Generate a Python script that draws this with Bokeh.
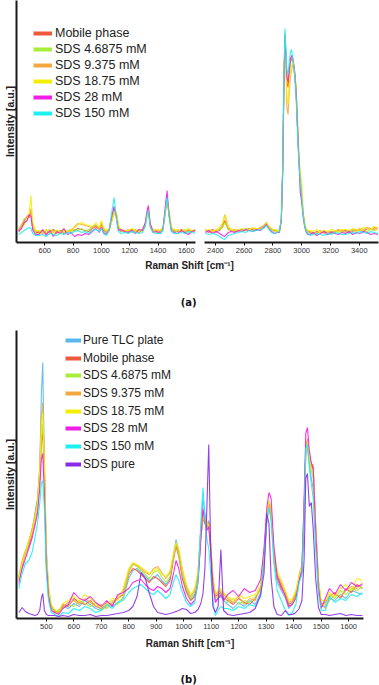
from bokeh.plotting import figure
from bokeh.models import Range1d, FixedTicker, Legend, LegendItem, Label
from bokeh.layouts import column, row
from bokeh.embed import file_html
from bokeh.resources import INLINE

# ---------------- data ----------------
NAMES_A = ["Mobile phase", "SDS 4.6875 mM", "SDS 9.375 mM", "SDS 18.75 mM", "SDS 28 mM", "SDS 150 mM"]
NAMES_B = ["Pure TLC plate", "Mobile phase", "SDS 4.6875 mM", "SDS 9.375 mM", "SDS 18.75 mM",
           "SDS 28 mM", "SDS 150 mM", "SDS pure"]
COLORS = {
    "Pure TLC plate": "#58b8ee",
    "Mobile phase": "#f0583c",
    "SDS 4.6875 mM": "#a6ee3a",
    "SDS 9.375 mM": "#f4a640",
    "SDS 18.75 mM": "#f4ee00",
    "SDS 28 mM": "#f21ee6",
    "SDS 150 mM": "#1ef0f0",
    "SDS pure": "#8a2be8",
}

TICKS_A_LEFT = [600, 800, 1000, 1200, 1400, 1600]
TICKS_A_RIGHT = [2400, 2600, 2800, 3000, 3200, 3400]
TICKS_B = [500, 600, 700, 800, 900, 1000, 1100, 1200, 1300, 1400, 1500, 1600]

# panel (a), left segment
A_LEFT_X = [415, 435, 455, 475, 490, 502, 515, 535,
            560, 585, 610, 635, 660, 685, 710, 735, 760, 785, 810, 835, 860, 885, 910, 935, 960, 985,
            1000, 1015, 1035, 1055, 1075, 1090, 1105, 1120, 1140, 1165,
            1190, 1215, 1240, 1265, 1290, 1310, 1322, 1332, 1345, 1365, 1390,
            1415, 1435, 1450, 1464, 1478, 1495, 1515,
            1540, 1565, 1590, 1615, 1640, 1665]
A_LEFT_MOBILE = [12, 16, 22, 26, 25, 30, 14, 10,
                 10, 12, 9, 11, 13, 10, 12, 9, 11, 13, 12, 14, 13, 12, 11, 14, 16, 13,
                 18, 12, 10, 14, 26, 34, 28, 14, 11, 12,
                 11, 13, 12, 10, 13, 18, 28, 33, 18, 11, 12,
                 11, 14, 30, 46, 28, 13, 11,
                 11, 13, 10, 12, 11, 13]
A_LEFT_SDS4 = [14, 18, 24, 24, 28, 28, 15, 9,
               9, 11, 10, 13, 10, 12, 9, 11, 12, 10, 13, 12, 14, 11, 13, 15, 18, 14,
               20, 13, 9, 12, 24, 32, 30, 15, 12, 10,
               12, 10, 13, 12, 11, 17, 27, 31, 17, 12, 10,
               10, 13, 28, 45, 30, 14, 10,
               12, 11, 13, 10, 12, 11]
A_LEFT_SDS9 = [12, 17, 20, 27, 26, 34, 16, 11,
               11, 9, 12, 10, 12, 9, 11, 13, 10, 12, 16, 19, 18, 17, 16, 15, 17, 14,
               19, 14, 11, 13, 22, 28, 31, 16, 12, 11,
               13, 12, 11, 13, 12, 16, 26, 30, 16, 13, 12,
               12, 15, 27, 42, 31, 15, 12,
               11, 12, 10, 13, 12, 10]
A_LEFT_SDS18 = [10, 15, 18, 22, 30, 47, 20, 12,
                12, 10, 13, 11, 9, 13, 10, 12, 11, 13, 15, 18, 20, 18, 17, 16, 20, 15,
                22, 15, 12, 14, 22, 29, 30, 17, 13, 12,
                12, 14, 12, 11, 13, 18, 27, 32, 18, 12, 13,
                12, 14, 28, 44, 32, 14, 13,
                13, 11, 12, 14, 11, 12]
A_LEFT_SDS28 = [11, 14, 20, 22, 28, 26, 12, 8,
                8, 13, 7, 12, 6, 11, 9, 14, 8, 10, 6, 8, 7, 9, 8, 11, 14, 10,
                15, 10, 8, 12, 28, 36, 26, 12, 13, 11,
                10, 12, 9, 13, 12, 20, 31, 37, 19, 10, 11,
                9, 13, 34, 52, 27, 11, 10,
                9, 12, 10, 8, 11, 12]
A_LEFT_SDS150 = [8, 10, 12, 14, 15, 14, 9, 7,
                 7, 8, 6, 9, 8, 7, 9, 8, 10, 9, 11, 12, 10, 11, 9, 12, 13, 11,
                 14, 9, 7, 12, 32, 45, 24, 11, 9, 10,
                 9, 11, 10, 9, 10, 16, 28, 32, 15, 10, 9,
                 9, 12, 30, 45, 26, 11, 9,
                 9, 10, 9, 11, 10, 9]

# panel (a), right segment
A_RIGHT_X = [2330, 2355, 2380, 2405, 2430, 2450, 2465, 2475, 2490, 2510,
             2535, 2560, 2585, 2610, 2635, 2660, 2685, 2710, 2735, 2755, 2770, 2790, 2810, 2830,
             2845, 2858, 2868, 2876, 2884, 2890, 2897, 2905, 2913, 2921, 2929, 2937, 2945, 2953,
             2961, 2970, 2980, 2990, 3000, 3010, 3020, 3032, 3045,
             3060, 3080, 3105, 3130, 3155, 3180, 3205, 3230, 3255, 3280,
             3305, 3330, 3355, 3380, 3405, 3430, 3455, 3480, 3505, 3530]
A_RIGHT_MOBILE = [12, 10, 13, 11, 12, 16, 22, 18, 13, 12,
                  11, 12, 13, 12, 14, 13, 12, 14, 16, 19, 16, 13, 12, 12,
                  12, 22, 72, 158, 206, 186, 160, 155, 168, 180, 184, 182, 175, 165,
                  150, 118, 82, 62, 46, 28, 18, 12, 11,
                  10, 9, 11, 10, 12, 9, 11, 10, 12, 11,
                  12, 10, 11, 13, 12, 11, 14, 13, 15, 14]
A_RIGHT_SDS4 = [11, 12, 10, 12, 13, 15, 20, 17, 14, 11,
                12, 11, 12, 14, 13, 12, 14, 13, 15, 18, 15, 12, 11, 13,
                11, 23, 76, 162, 210, 190, 168, 162, 174, 184, 186, 183, 176, 168,
                152, 120, 84, 64, 48, 30, 18, 12, 10,
                9, 10, 9, 11, 10, 11, 9, 12, 10, 11,
                10, 11, 12, 11, 13, 12, 11, 13, 12, 13]
A_RIGHT_SDS9 = [13, 11, 12, 10, 14, 18, 28, 22, 15, 12,
                13, 12, 11, 13, 12, 14, 13, 15, 17, 20, 16, 14, 12, 11,
                12, 21, 70, 155, 205, 180, 135, 128, 150, 165, 172, 178, 177, 170,
                155, 125, 88, 66, 50, 30, 19, 13, 11,
                11, 10, 10, 12, 9, 11, 10, 11, 13, 12,
                11, 12, 13, 12, 14, 13, 15, 14, 13, 15]
A_RIGHT_SDS18 = [12, 13, 11, 13, 15, 20, 27, 24, 16, 13,
                 12, 13, 14, 12, 13, 15, 14, 13, 16, 19, 17, 13, 13, 12,
                 11, 22, 73, 158, 207, 182, 145, 138, 158, 170, 176, 180, 176, 168,
                 154, 124, 90, 68, 61, 32, 20, 14, 12,
                 12, 11, 13, 10, 12, 11, 13, 12, 11, 13,
                 13, 12, 14, 13, 12, 15, 14, 13, 16, 14]
A_RIGHT_SDS28 = [10, 12, 9, 11, 9, 7, 6, 8, 10, 11,
                 10, 12, 11, 13, 12, 11, 13, 12, 15, 18, 14, 11, 9, 10,
                 10, 22, 74, 160, 208, 188, 165, 160, 172, 183, 187, 185, 178, 166,
                 150, 118, 85, 50, 40, 26, 16, 10, 8,
                 8, 10, 7, 9, 11, 8, 10, 9, 8, 10,
                 9, 11, 8, 10, 9, 11, 10, 8, 9, 8]
A_RIGHT_SDS150 = [9, 8, 9, 8, 6, 4, 3, 5, 7, 8,
                  9, 10, 11, 10, 12, 11, 12, 13, 14, 17, 14, 10, 9, 10,
                  11, 24, 78, 165, 214, 192, 172, 168, 180, 190, 193, 186, 176, 164,
                  145, 112, 80, 62, 46, 28, 17, 11, 9,
                  7, 8, 9, 8, 7, 9, 8, 10, 9, 8,
                  8, 9, 10, 9, 11, 10, 9, 11, 10, 9]

# panel (b)
B_X = [400, 412, 424, 436, 448, 458, 468, 476, 482, 487, 493, 500, 508, 518,
       530, 545, 560, 580, 600, 620, 640, 660, 680, 700, 720, 740, 760, 780,
       800, 815, 830, 845, 860, 875, 890, 905, 920, 935, 950, 962, 972, 982, 995, 1010,
       1025, 1040, 1052, 1062, 1070, 1077, 1084, 1091, 1098, 1106, 1115, 1125, 1135, 1145,
       1160, 1180, 1200, 1220, 1240, 1260, 1280, 1292, 1302, 1310, 1318, 1328, 1340, 1355, 1370, 1382,
       1395, 1408, 1420, 1430, 1438, 1444, 1450, 1457, 1464, 1471, 1480, 1490, 1500,
       1515, 1530, 1550, 1570, 1590, 1610, 1630, 1650]
B_PURE_TLC = [41, 55, 64, 78, 86, 105, 120, 150, 225, 256, 150, 60, 25, 10,
              6, 8, 12, 10, 15, 12, 18, 14, 10, 8, 14, 12, 16, 20,
              40, 48, 50, 46, 42, 38, 40, 44, 38, 34, 40, 62, 79, 66, 42, 28,
              20, 24, 45, 90, 120, 105, 95, 98, 70, 35, 18, 20, 22, 18,
              14, 10, 16, 12, 18, 14, 26, 55, 95, 112, 100, 60, 36, 28, 20, 10,
              14, 22, 38, 46, 100, 165, 172, 155, 140, 130, 80, 30, 12,
              12, 20, 18, 24, 20, 28, 26, 24]
B_MOBILE = [38, 52, 66, 72, 84, 95, 110, 140, 175, 188, 140, 62, 28, 12,
            8, 6, 14, 12, 20, 16, 14, 18, 12, 10, 16, 14, 20, 24,
            44, 50, 48, 44, 40, 36, 42, 40, 36, 32, 38, 58, 72, 62, 40, 26,
            18, 22, 40, 80, 100, 95, 92, 96, 75, 40, 22, 24, 26, 20,
            18, 14, 20, 16, 14, 20, 30, 62, 100, 116, 108, 66, 40, 30, 24, 14,
            16, 24, 40, 50, 108, 170, 178, 160, 152, 150, 90, 36, 14,
            16, 22, 26, 20, 30, 26, 34, 30]
B_SDS4 = [40, 56, 62, 75, 88, 98, 112, 145, 180, 195, 150, 65, 27, 11,
          5, 9, 10, 14, 12, 18, 15, 12, 16, 8, 12, 18, 14, 22,
          46, 54, 52, 48, 44, 40, 46, 48, 42, 36, 42, 60, 75, 64, 44, 30,
          20, 26, 42, 85, 104, 98, 94, 92, 70, 38, 20, 22, 25, 22,
          16, 20, 14, 18, 16, 22, 28, 60, 98, 111, 104, 64, 42, 34, 22, 12,
          15, 22, 42, 52, 110, 172, 175, 158, 148, 140, 86, 34, 12,
          14, 24, 20, 28, 24, 30, 28, 32]
B_SDS9 = [42, 58, 68, 76, 90, 102, 118, 150, 200, 216, 160, 70, 30, 12,
          7, 5, 12, 16, 18, 14, 20, 16, 12, 14, 10, 16, 22, 28,
          48, 55, 53, 50, 46, 44, 50, 52, 46, 40, 46, 62, 74, 68, 48, 32,
          22, 28, 46, 88, 108, 100, 90, 95, 72, 40, 24, 26, 28, 24,
          20, 16, 22, 14, 20, 18, 32, 64, 102, 114, 106, 68, 44, 36, 26, 16,
          18, 26, 44, 54, 112, 168, 180, 162, 154, 154, 95, 38, 15,
          10, 18, 24, 22, 28, 32, 30, 36]
B_SDS18 = [40, 55, 66, 78, 86, 100, 115, 148, 195, 206, 155, 68, 32, 14,
           9, 7, 15, 18, 22, 17, 24, 20, 15, 12, 14, 20, 18, 30,
           50, 56, 54, 51, 48, 45, 48, 50, 44, 42, 48, 64, 76, 70, 50, 34,
           24, 30, 48, 84, 102, 96, 98, 92, 74, 42, 25, 28, 30, 26,
           22, 18, 24, 20, 22, 24, 34, 66, 104, 118, 110, 70, 48, 38, 28, 18,
           20, 28, 42, 52, 106, 166, 176, 164, 150, 146, 92, 40, 18,
           18, 26, 22, 30, 34, 28, 40, 38]
B_SDS28 = [35, 50, 60, 70, 80, 92, 105, 130, 160, 165, 125, 55, 22, 8,
           6, 4, 10, 14, 26, 20, 18, 22, 16, 12, 18, 12, 24, 26,
           30, 36, 38, 39, 34, 30, 28, 32, 30, 26, 30, 44, 58, 50, 32, 20,
           14, 18, 36, 78, 110, 96, 88, 92, 68, 34, 16, 20, 24, 18,
           24, 28, 22, 30, 26, 28, 39, 70, 110, 126, 120, 72, 42, 32, 22, 12,
           14, 20, 38, 48, 120, 185, 191, 168, 156, 150, 88, 32, 10,
           20, 30, 24, 34, 28, 36, 32, 34]
B_SDS150 = [30, 45, 55, 58, 66, 80, 95, 115, 135, 138, 110, 45, 18, 6,
            4, 2, 6, 5, 10, 8, 12, 10, 6, 8, 14, 10, 16, 18,
            26, 30, 32, 34, 30, 26, 24, 28, 24, 20, 24, 36, 44, 38, 26, 16,
            12, 16, 38, 95, 131, 100, 80, 70, 45, 18, 3, 8, 12, 10,
            10, 8, 12, 10, 14, 12, 22, 58, 100, 111, 98, 55, 28, 18, 8, 3,
            6, 14, 36, 44, 104, 170, 174, 150, 135, 120, 70, 25, 8,
            8, 22, 16, 20, 18, 24, 22, 26]
B_SDS_PURE = [6, 11, 7, 5, 4, 3, 4, 8, 20, 25, 8, 4, 3, 3,
              3, 2, 3, 2, 4, 3, 3, 4, 2, 3, 3, 4, 5, 6,
              8, 12, 22, 46, 40, 25, 12, 6, 5, 4, 5, 6, 7, 8, 10, 9,
              5, 6, 9, 15, 25, 50, 110, 174, 70, 12, 6, 12, 69, 8,
              4, 3, 4, 5, 6, 10, 24, 45, 105, 95, 40, 12, 4, 3, 8, 4,
              4, 6, 10, 18, 60, 140, 145, 112, 116, 90, 40, 11, 4,
              4, 3, 4, 5, 3, 4, 3, 3]

A_LEFT = [A_LEFT_MOBILE, A_LEFT_SDS4, A_LEFT_SDS9, A_LEFT_SDS18, A_LEFT_SDS28, A_LEFT_SDS150]
A_RIGHT = [A_RIGHT_MOBILE, A_RIGHT_SDS4, A_RIGHT_SDS9, A_RIGHT_SDS18, A_RIGHT_SDS28, A_RIGHT_SDS150]
B_ALL = [B_PURE_TLC, B_MOBILE, B_SDS4, B_SDS9, B_SDS18, B_SDS28, B_SDS150, B_SDS_PURE]

# ---------------- styling ----------------
FONT = "Liberation Sans"
AX = "#1a1a1a"
TXT = "#333333"


def base(p):
    p.outline_line_color = None
    p.xgrid.visible = False
    p.ygrid.visible = False
    p.background_fill_color = "white"
    p.border_fill_color = "white"


def style_x(ax, ticks):
    ax.ticker = FixedTicker(ticks=ticks)
    ax.axis_line_color = AX
    ax.axis_line_width = 2
    ax.major_tick_line_color = AX
    ax.major_tick_line_width = 1
    ax.major_tick_out = 3
    ax.major_tick_in = 0
    ax.minor_tick_line_color = None
    ax.major_label_text_font = FONT
    ax.major_label_text_font_size = "7.5px"
    ax.major_label_text_color = TXT
    ax.major_label_standoff = 2


def style_y(ax):
    ax.ticker = FixedTicker(ticks=[])
    ax.axis_line_color = AX
    ax.axis_line_width = 2
    ax.major_tick_line_color = None
    ax.minor_tick_line_color = None
    ax.major_tick_out = 0
    ax.major_tick_in = 0
    ax.axis_label = "Intensity [a.u.]"
    ax.axis_label_text_font = FONT
    ax.axis_label_text_font_style = "bold"
    ax.axis_label_text_font_size = "10.5px"
    ax.axis_label_text_color = "#222222"
    ax.axis_label_standoff = 1


def add_legend_rows(p, items, frame_h, x0, first_center, pitch, font_size, glyph_w, standoff):
    # one single-row legend per entry, so that the row pitch does not depend on text metrics
    row_h = 16
    for i, item in enumerate(items):
        center = first_center + i * pitch
        loc = (x0, round(frame_h - center - row_h / 2))
        p.add_layout(Legend(items=[item], location=loc, glyph_width=glyph_w, glyph_height=row_h,
                            label_height=row_h, spacing=0, padding=0, margin=0,
                            label_standoff=standoff, border_line_color=None,
                            background_fill_alpha=0, label_text_font=FONT,
                            label_text_font_size=font_size, label_text_color="#222222"))


# ---------------- panel (a) ----------------
A_Y = Range1d(0, 242)
pa_l = figure(width=199, height=260, x_range=Range1d(400, 1665), y_range=A_Y,
              output_backend="svg", toolbar_location=None,
              min_border_left=13, min_border_right=4, min_border_top=0, min_border_bottom=18)
pa_r = figure(width=180, height=260, x_range=Range1d(2324, 3534), y_range=A_Y,
              output_backend="svg", toolbar_location=None, y_axis_location=None,
              min_border_left=5, min_border_right=1, min_border_top=0, min_border_bottom=18)
for p in (pa_l, pa_r):
    base(p)
style_x(pa_l.xaxis[0], TICKS_A_LEFT)
style_x(pa_r.xaxis[0], TICKS_A_RIGHT)
style_y(pa_l.yaxis[0])

items_a = []
for name, yl, yr in zip(NAMES_A, A_LEFT, A_RIGHT):
    c = COLORS[name]
    pa_l.line(A_LEFT_X, yl, line_color=c, line_width=1.1, line_alpha=0.9)
    pa_r.line(A_RIGHT_X, yr, line_color=c, line_width=1.1, line_alpha=0.9)
    # legend swatch: thick line, drawn only in the legend
    proxy = pa_l.line(A_LEFT_X, yl, line_color=c, line_width=4, visible=False)
    items_a.append(LegendItem(label=name, renderers=[proxy]))

add_legend_rows(pa_l, items_a, 242, 17, 33, 16, "12.5px", 19, 3)

# axis break marks
pa_l.add_layout(Label(x=1680, y=0, text="/", text_align="center", text_baseline="middle",
                      text_font=FONT, text_font_size="12px", text_color=AX))
pa_r.add_layout(Label(x=2310, y=0, text="/", text_align="center", text_baseline="middle",
                      text_font=FONT, text_font_size="12px", text_color=AX))

cap_a = figure(width=379, height=62, x_range=Range1d(0, 379), y_range=Range1d(62, 0),
               output_backend="svg", toolbar_location=None, x_axis_location=None,
               y_axis_location=None, min_border=0)
base(cap_a)
cap_a.add_layout(Label(x=189, y=5, text="Raman Shift [cm\u207b\u00b9]", text_align="center",
                       text_baseline="middle", text_font=FONT, text_font_style="bold",
                       text_font_size="10px", text_color="#222222"))
cap_a.add_layout(Label(x=188, y=42, text="(a)", text_align="center", text_baseline="middle",
                       text_font="DejaVu Sans", text_font_style="bold", text_font_size="10px",
                       text_color="#111111"))

# ---------------- panel (b) ----------------
pb = figure(width=379, height=330, x_range=Range1d(391.5, 1654), y_range=Range1d(0, 288),
            output_backend="svg", toolbar_location=None,
            min_border_left=14, min_border_right=16, min_border_top=8, min_border_bottom=34)
base(pb)
style_x(pb.xaxis[0], TICKS_B)
style_y(pb.yaxis[0])
pb.xaxis[0].axis_label = "Raman Shift [cm\u207b\u00b9]"
pb.xaxis[0].axis_label_text_font = FONT
pb.xaxis[0].axis_label_text_font_style = "bold"
pb.xaxis[0].axis_label_text_font_size = "10px"
pb.xaxis[0].axis_label_text_color = "#222222"
pb.xaxis[0].axis_label_standoff = 6

items_b = []
for name, yv in zip(NAMES_B, B_ALL):
    c = COLORS[name]
    pb.line(B_X, yv, line_color=c, line_width=1.1, line_alpha=0.9)
    proxy = pb.line(B_X, yv, line_color=c, line_width=4, visible=False)
    items_b.append(LegendItem(label=name, renderers=[proxy]))

add_legend_rows(pb, items_b, 288, 49, 10, 17.7, "12px", 16, 2)

cap_b = figure(width=379, height=33, x_range=Range1d(0, 379), y_range=Range1d(33, 0),
               output_backend="svg", toolbar_location=None, x_axis_location=None,
               y_axis_location=None, min_border=0)
base(cap_b)
cap_b.add_layout(Label(x=188, y=27, text="(b)", text_align="center", text_baseline="middle",
                       text_font="DejaVu Sans", text_font_style="bold", text_font_size="10px",
                       text_color="#111111"))

layout = column(row(pa_l, pa_r, spacing=0), cap_a, pb, cap_b, spacing=0)

with open("out.html", "w") as f:
    f.write(file_html(layout, INLINE))
